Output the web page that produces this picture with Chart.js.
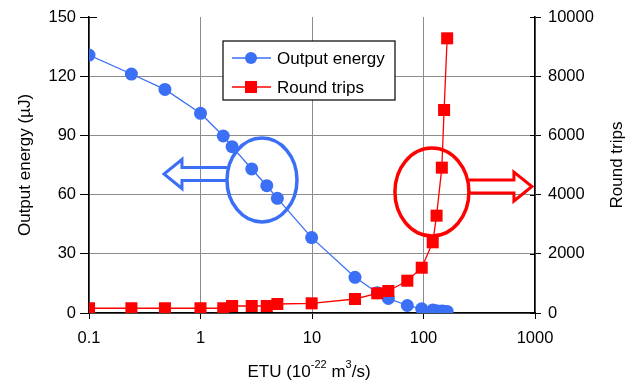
<!DOCTYPE html>
<html>
<head>
<meta charset="utf-8">
<script src="https://cdn.jsdelivr.net/npm/chart.js@4"></script>
<style>
  html, body { margin: 0; padding: 0; background: #fff; }
  #wrap { width: 636px; height: 385px; }
</style>
</head>
<body>
<div id="wrap"><canvas id="chart" width="636" height="385"></canvas></div>
<script>
// ETU values (10^-22 m3/s) shared by both series
const etu = [0.1, 0.24, 0.48, 1, 1.6, 1.92, 2.88, 3.93, 4.89, 9.93, 24.3, 38.5, 48.4, 71.6, 96.4, 121, 131, 146, 153, 163];
// Output energy (uJ), left axis
const energy = [130.7, 121.1, 113.3, 101.2, 89.7, 84.3, 73, 64.5, 58.1, 38.2, 18.1, 10.3, 7.4, 3.8, 2.1, 1.5, 1.1, 1.0, 0.9, 0.8];
// Round trips, right axis
const roundTrips = [160, 160, 160, 160, 160, 236, 236, 236, 304, 327, 473, 665, 743, 1091, 1530, 2388, 3288, 4910, 6858, 9280];

const seriesNames = ['Output energy', 'Round trips'];
const xTicks = [0.1, 1, 10, 100, 1000];
const xTickLabels = ['0.1', '1', '10', '100', '1000'];
const yLeftTicks = [0, 30, 60, 90, 120, 150];
const yRightTicks = [0, 2000, 4000, 6000, 8000, 10000];

const BLUE = '#3b6ff5';
const RED = '#ff0000';
const FONT = "'Liberation Sans', Arial, sans-serif";
const GRID = '#8c8c8c';

// ellipses + hollow arrows (centre in data coords), legend, titles
const marks = {
  id: 'marks',
  beforeDatasetsDraw(chart) {
    const ctx = chart.ctx;
    const x = chart.scales.x, y = chart.scales.y;
    const shapes = [
      { cx: 3.56, cy: 67.4, rx: 35, ry: 42, dir: -1, dy: -6, color: BLUE },
      { cx: 119, cy: 61.3, rx: 37, ry: 44, dir: 1, dy: -5.5, color: RED }
    ];
    ctx.save();
    shapes.forEach(s => {
      const px = x.getPixelForValue(s.cx);
      const py = y.getPixelForValue(s.cy);
      ctx.strokeStyle = s.color;
      ctx.lineWidth = 3.5;
      ctx.beginPath();
      ctx.ellipse(px, py, s.rx, s.ry, 0, 0, Math.PI * 2);
      ctx.stroke();
      // arrow
      const d = s.dir;
      const x0 = px + d * s.rx;
      const xh = x0 + d * 45;
      const xt = x0 + d * 63;
      const ay = py + s.dy;
      ctx.lineWidth = 3;
      ctx.lineJoin = 'miter';
      ctx.beginPath();
      ctx.moveTo(x0, ay - 6.5);
      ctx.lineTo(xh, ay - 6.5);
      ctx.lineTo(xh, ay - 14.5);
      ctx.lineTo(xt, ay);
      ctx.lineTo(xh, ay + 14.5);
      ctx.lineTo(xh, ay + 6.5);
      ctx.lineTo(x0, ay + 6.5);
      ctx.stroke();
    });
    ctx.restore();
  },
  afterDraw(chart) {
    const ctx = chart.ctx;
    const a = chart.chartArea;
    ctx.save();
    // legend box
    const lx = a.left + 134, ly = a.top + 24, lw = 172, lh = 59;
    ctx.fillStyle = '#fff';
    ctx.fillRect(lx, ly, lw, lh);
    ctx.strokeStyle = '#000';
    ctx.lineWidth = 1.2;
    ctx.strokeRect(lx, ly, lw, lh);
    ctx.font = '17px ' + FONT;
    ctx.textBaseline = 'middle';
    chart.data.datasets.forEach((ds, i) => {
      const ry = ly + 17 + i * 29;
      ctx.strokeStyle = ds.borderColor;
      ctx.lineWidth = 1.5;
      ctx.beginPath();
      ctx.moveTo(lx + 9, ry);
      ctx.lineTo(lx + 48, ry);
      ctx.stroke();
      ctx.fillStyle = ds.backgroundColor;
      if (ds.pointStyle === 'rect') {
        ctx.fillRect(lx + 22, ry - 6, 12, 12);
      } else {
        ctx.beginPath();
        ctx.arc(lx + 28, ry, 6, 0, Math.PI * 2);
        ctx.fill();
      }
      ctx.fillStyle = '#000';
      ctx.fillText(ds.label, lx + 54, ry + 1);
    });
    // x axis title with superscripts
    const parts = [['ETU (10', 0], ['-22', 1], [' m', 0], ['3', 1], ['/s)', 0]];
    const big = '17px ' + FONT, small = '11px ' + FONT;
    let w = 0;
    parts.forEach(p => { ctx.font = p[1] ? small : big; w += ctx.measureText(p[0]).width; });
    let tx = 309 - w / 2;
    const ty = 377;
    ctx.fillStyle = '#000';
    ctx.textBaseline = 'alphabetic';
    ctx.textAlign = 'left';
    parts.forEach(p => {
      ctx.font = p[1] ? small : big;
      ctx.fillText(p[0], tx, p[1] ? ty - 9 : ty);
      tx += ctx.measureText(p[0]).width;
    });
    // right axis title, reading bottom to top
    ctx.font = '17px ' + FONT;
    ctx.textAlign = 'center';
    ctx.textBaseline = 'middle';
    ctx.translate(617, (a.top + a.bottom) / 2);
    ctx.rotate(-Math.PI / 2);
    ctx.fillText('Round trips', 0, 0);
    ctx.setTransform(1, 0, 0, 1, 0, 0);
    // axis ticks crossing into the plot
    const y1 = chart.scales.y1;
    ctx.strokeStyle = '#000';
    ctx.lineWidth = 1;
    yRightTicks.forEach(v => {
      const py = Math.round(y1.getPixelForValue(v)) + 0.5;
      ctx.beginPath();
      ctx.moveTo(a.right - 5, py);
      ctx.lineTo(a.right, py);
      ctx.stroke();
    });
    const topY = Math.round(chart.scales.y.getPixelForValue(yLeftTicks[yLeftTicks.length - 1])) + 0.5;
    ctx.beginPath();
    ctx.moveTo(a.left, topY);
    ctx.lineTo(a.left + 8, topY);
    ctx.stroke();
    ctx.restore();
  }
};

new Chart(document.getElementById('chart').getContext('2d'), {
  type: 'line',
  data: {
    datasets: [
      {
        label: seriesNames[0],
        data: etu.map((v, i) => ({ x: v, y: energy[i] })),
        yAxisID: 'y',
        borderColor: BLUE,
        backgroundColor: BLUE,
        borderWidth: 1.3,
        pointStyle: 'circle',
        pointRadius: 6.5,
        pointHoverRadius: 6.5,
        pointBorderWidth: 0,
        order: 1
      },
      {
        label: seriesNames[1],
        data: etu.map((v, i) => ({ x: v, y: roundTrips[i] })),
        yAxisID: 'y1',
        borderColor: RED,
        backgroundColor: RED,
        borderWidth: 1.3,
        pointStyle: 'rect',
        pointRadius: 8.5,
        pointHoverRadius: 8.5,
        pointBorderWidth: 0,
        order: 0
      }
    ]
  },
  options: {
    responsive: false,
    animation: false,
    layout: { padding: { top: 17, left: 0, right: 0, bottom: 0 } },
    plugins: { legend: { display: false }, tooltip: { enabled: false } },
    scales: {
      x: {
        type: 'logarithmic',
        min: 0.1,
        max: 1000,
        afterBuildTicks: s => { s.ticks = xTicks.map(v => ({ value: v })); },
        afterFit: s => { s.height = 72; },
        ticks: {
          autoSkip: false,
          maxRotation: 0,
          color: '#000',
          font: { family: FONT, size: 16.5 },
          padding: 10,
          callback: (v) => xTickLabels[xTicks.indexOf(v)]
        },
        grid: { color: GRID, tickColor: '#000', tickLength: 6, lineWidth: 1 },
        border: { color: '#000', width: 1.5 },
        title: { display: false }
      },
      y: {
        position: 'left',
        min: 0,
        max: 150,
        afterBuildTicks: s => { s.ticks = yLeftTicks.map(v => ({ value: v })); },
        afterFit: s => { s.width = 89; },
        ticks: { color: '#000', font: { family: FONT, size: 16.5 }, padding: 4 },
        grid: {
          color: c => (c.tick && c.tick.value === 150) ? 'rgba(0,0,0,0)' : GRID,
          tickColor: '#000',
          tickLength: 9
        },
        border: { color: '#000', width: 1.5 },
        title: {
          display: true,
          text: 'Output energy (\u00b5J)',
          color: '#000',
          font: { family: FONT, size: 17 },
          padding: { top: 15, bottom: 0 }
        }
      },
      y1: {
        position: 'right',
        min: 0,
        max: 10000,
        afterBuildTicks: s => { s.ticks = yRightTicks.map(v => ({ value: v })); },
        afterFit: s => { s.width = 101; },
        ticks: {
          color: '#000',
          font: { family: FONT, size: 16.5 },
          padding: 7,
          callback: v => String(v)
        },
        grid: { drawOnChartArea: false, color: '#000', tickLength: 6 },
        border: { color: '#000', width: 1.5 },
        title: { display: false }
      }
    }
  },
  plugins: [marks]
});
</script>
</body>
</html>
